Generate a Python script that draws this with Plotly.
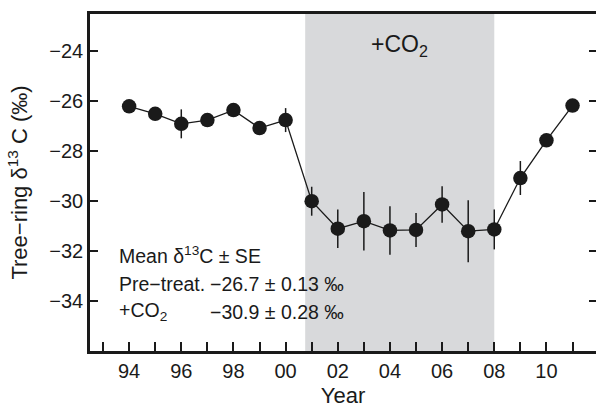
import plotly.graph_objects as go

years = list(range(1994, 2012))
d13c = [-26.2, -26.5, -26.9, -26.75, -26.35, -27.07, -26.75, -30.0, -31.1, -30.8,
        -31.17, -31.15, -30.13, -31.2, -31.13, -29.07, -27.56, -26.17]
se = [0.12, 0.12, 0.58, 0.12, 0.12, 0.22, 0.48, 0.58, 0.77, 1.17,
      0.97, 0.68, 0.73, 1.24, 0.8, 0.68, 0.15, 0.12]
tick_years = [1994, 1996, 1998, 2000, 2002, 2004, 2006, 2008, 2010]
tick_labels = ["94", "96", "98", "00", "02", "04", "06", "08", "10"]
y_ticks = [-34, -32, -30, -28, -26, -24]
y_labels = ["\u221234", "\u221232", "\u221230", "\u221228", "\u221226", "\u221224"]
treat_start, treat_end = 2000.75, 2008.0
stats_labels = ["Pre\u2212treat.", "+CO<sub>2</sub>"]
stats_values = ["\u221226.7 ± 0.13 \u2030", "\u221230.9 ± 0.28 \u2030"]

FONT = "Liberation Sans, Arial, sans-serif"
INK = "#1a1a1a"
ANN = 19.5

fig = go.Figure()
fig.add_trace(go.Scatter(
    x=years, y=d13c, mode="lines+markers",
    line=dict(color=INK, width=1.3),
    marker=dict(color=INK, size=14.5),
    error_y=dict(type="data", array=se, visible=True, color=INK, thickness=1.5, width=0),
    showlegend=False,
))
# invisible trace to anchor right-side ticks
fig.add_trace(go.Scatter(x=[years[0]], y=[d13c[0]], yaxis="y2", mode="markers",
                         marker=dict(opacity=0), showlegend=False, hoverinfo="skip"))

fig.add_shape(type="rect", xref="x", yref="paper", x0=treat_start, x1=treat_end,
              y0=0, y1=1, fillcolor="#d8d9db", line=dict(width=0), layer="below")

fig.add_annotation(x=(treat_start + treat_end) / 2, y=-23.75, text="+CO<sub>2</sub>",
                   showarrow=False, font=dict(family=FONT, size=23, color=INK),
                   xanchor="center", yanchor="middle")

fig.add_annotation(x=1993.54, y=-32.15, text="Mean \u03b4<sup>13</sup>C ± SE",
                   showarrow=False, font=dict(family=FONT, size=ANN, color=INK),
                   xanchor="left", yanchor="middle")
for i, (lab, val) in enumerate(zip(stats_labels, stats_values)):
    yy = -33.3 - 1.13 * i
    fig.add_annotation(x=1993.54, y=yy, text=lab, showarrow=False,
                       font=dict(family=FONT, size=ANN, color=INK),
                       xanchor="left", yanchor="middle")
    fig.add_annotation(x=1997.04, y=yy, text=val, showarrow=False,
                       font=dict(family=FONT, size=ANN, color=INK),
                       xanchor="left", yanchor="middle")

fig.update_layout(
    width=596, height=408,
    margin=dict(l=90, r=0, t=14, b=57),
    plot_bgcolor="white", paper_bgcolor="white",
    font=dict(family=FONT, size=20, color=INK),
    xaxis=dict(
        range=[1992.5, 2011.9], tickvals=tick_years, ticktext=tick_labels,
        ticks="inside", ticklen=9, tickwidth=1.5, tickcolor=INK,
        minor=dict(tick0=1993, dtick=1, ticks="inside", ticklen=9, tickwidth=1.5, tickcolor=INK),
        showline=True, linewidth=2.5, linecolor=INK, mirror=True,
        showgrid=False, zeroline=False,
        title=dict(text="Year", font=dict(size=22), standoff=8),
        tickfont=dict(size=20),
    ),
    yaxis=dict(
        range=[-36, -22.5], tickvals=y_ticks, ticktext=y_labels,
        ticks="inside", ticklen=8, tickwidth=1.5, tickcolor=INK,
        showline=True, linewidth=2.5, linecolor=INK,
        showgrid=False, zeroline=False,
        title=dict(text="Tree\u2212ring \u03b4<sup>13</sup> C (\u2030)", font=dict(size=22), standoff=16),
        tickfont=dict(size=20),
    ),
    yaxis2=dict(
        range=[-36, -22.5], tickvals=y_ticks, overlaying="y", side="right",
        ticks="inside", ticklen=7, tickwidth=1.5, tickcolor=INK,
        showticklabels=False, showline=False, showgrid=False, zeroline=False,
    ),
)

fig.write_html("out.html")
